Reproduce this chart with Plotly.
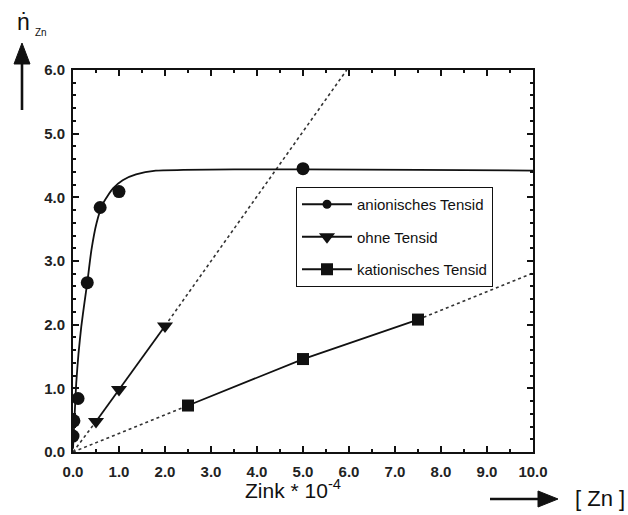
import plotly.graph_objects as go

# ---- data ----
anion_x = [0.0, 0.02, 0.11, 0.31, 0.59, 1.0, 5.0]
anion_y = [0.25, 0.49, 0.84, 2.66, 3.84, 4.09, 4.45]
anion_curve_x = [0.0, 0.03, 0.07, 0.12, 0.18, 0.25, 0.31, 0.40, 0.51, 0.65, 0.87, 1.08, 1.37, 1.8, 2.4, 3.5, 5.0, 7.5, 10.0]
anion_curve_y = [0.05, 0.50, 1.08, 1.55, 1.97, 2.35, 2.66, 3.17, 3.59, 3.90, 4.14, 4.27, 4.36, 4.42, 4.43, 4.44, 4.44, 4.43, 4.42]

ohne_x = [0.5, 1.0, 2.0]
ohne_y = [0.48, 0.98, 1.98]
ohne_dot_lo_x = [0.0, 0.5]
ohne_dot_lo_y = [0.0, 0.48]
ohne_dot_hi_x = [2.0, 5.95]
ohne_dot_hi_y = [1.98, 6.0]

kat_x = [2.5, 5.0, 7.5]
kat_y = [0.73, 1.46, 2.08]
kat_dot_lo_x = [0.0, 2.5]
kat_dot_lo_y = [0.0, 0.73]
kat_dot_hi_x = [7.5, 10.0]
kat_dot_hi_y = [2.08, 2.81]

names = ["anionisches Tensid", "ohne Tensid", "kationisches Tensid"]
x_ticks = [0, 1, 2, 3, 4, 5, 6, 7, 8, 9, 10]
y_ticks = [0, 1, 2, 3, 4, 5, 6]

W, H = 628, 515
L, R, T, B = 73, 95, 70, 63
PW, PH = W - L - R, H - T - B


def px(x):
    return (x - L) / PW


def py(y):
    return (H - B - y) / PH


INK = "#111111"
DOT = "#333333"

fig = go.Figure()

# dotted extensions
for xs, ys in [(ohne_dot_lo_x, ohne_dot_lo_y), (ohne_dot_hi_x, ohne_dot_hi_y),
               (kat_dot_lo_x, kat_dot_lo_y), (kat_dot_hi_x, kat_dot_hi_y)]:
    fig.add_trace(go.Scatter(x=xs, y=ys, mode="lines", showlegend=False,
                             line=dict(color=DOT, width=1.6, dash="dot"), hoverinfo="skip"))

# anionic fitted curve
fig.add_trace(go.Scatter(x=anion_curve_x, y=anion_curve_y, mode="lines", showlegend=False,
                         line=dict(color=INK, width=1.8, shape="spline", smoothing=0.6)))

fig.add_trace(go.Scatter(x=anion_x, y=anion_y, mode="markers", name=names[0],
                         legendgroup="a", showlegend=False,
                         marker=dict(symbol="circle", size=13, color=INK)))
# legend entry for anionic (line + dot), no data of its own
fig.add_trace(go.Scatter(x=[None], y=[None], mode="lines+markers", name=names[0],
                         legendgroup="a",
                         line=dict(color=INK, width=1.8),
                         marker=dict(symbol="circle", size=9, color=INK)))
fig.add_trace(go.Scatter(x=ohne_x, y=ohne_y, mode="lines+markers", name=names[1],
                         legendgroup="b",
                         line=dict(color=INK, width=1.8),
                         marker=dict(symbol="triangle-down", size=14, color=INK)))
fig.add_trace(go.Scatter(x=kat_x, y=kat_y, mode="lines+markers", name=names[2],
                         legendgroup="c",
                         line=dict(color=INK, width=1.8),
                         marker=dict(symbol="square", size=12, color=INK)))

axis_common = dict(
    showline=True, linecolor=INK, linewidth=1.8, mirror="ticks",
    ticks="inside", ticklen=6, tickwidth=1.5, tickcolor=INK,
    showgrid=False, zeroline=False, tickformat=".1f",
    tickfont=dict(family="Liberation Sans, Arial", size=15, color="#222", weight="bold"),
)

fig.update_xaxes(range=[0, 10], tickvals=x_ticks,
                 minor=dict(dtick=0.5, ticks="inside", ticklen=3, tickcolor=INK, showgrid=False),
                 ticklabelstandoff=5, **axis_common)
fig.update_yaxes(range=[0, 6], tickvals=y_ticks,
                 minor=dict(dtick=0.2, ticks="inside", ticklen=3, tickcolor=INK, showgrid=False),
                 ticklabelstandoff=3, **axis_common)

TXT = dict(family="Liberation Sans, Arial", color="#111")

annotations = [
    dict(x=px(23), y=py(22), xref="paper", yref="paper", text="ṅ", showarrow=False,
         font=dict(size=23, **TXT), xanchor="center", yanchor="middle"),
    dict(x=px(41), y=py(32), xref="paper", yref="paper", text="Zn", showarrow=False,
         font=dict(size=10, **TXT), xanchor="center", yanchor="middle"),
    dict(x=px(293), y=py(489), xref="paper", yref="paper",
         text="Zink * 10<sup>-4</sup>", showarrow=False,
         font=dict(size=21, **TXT), xanchor="center", yanchor="middle"),
    dict(x=px(600), y=py(498), xref="paper", yref="paper", text="[ Zn ]", showarrow=False,
         font=dict(size=22, **TXT), xanchor="center", yanchor="middle"),
]


def ppath(points):
    return "M " + " L ".join(f"{px(a):.5f},{py(b):.5f}" for a, b in points) + " Z"


shapes = [
    # up arrow
    dict(type="line", xref="paper", yref="paper", x0=px(22), x1=px(22), y0=py(110), y1=py(60),
         line=dict(color="#111", width=2.6)),
    dict(type="path", xref="paper", yref="paper", path=ppath([(14, 64), (30, 64), (22, 43)]),
         fillcolor="#111", line=dict(color="#111", width=1)),
    # right arrow
    dict(type="line", xref="paper", yref="paper", x0=px(490), x1=px(542), y0=py(499), y1=py(499),
         line=dict(color="#111", width=2.6)),
    dict(type="path", xref="paper", yref="paper", path=ppath([(538, 491), (538, 507), (558, 499)]),
         fillcolor="#111", line=dict(color="#111", width=1)),
]

fig.update_layout(
    width=W, height=H,
    margin=dict(l=L, r=R, t=T, b=B),
    paper_bgcolor="white", plot_bgcolor="white",
    annotations=annotations,
    shapes=shapes,
    showlegend=True,
    legend=dict(x=px(296), y=py(187), xanchor="left", yanchor="top",
                bordercolor="#111", borderwidth=1, bgcolor="white",
                font=dict(size=15, family="Liberation Sans, Arial", color="#111"),
                traceorder="grouped", tracegroupgap=10, itemwidth=50,
                entrywidth=165),
)

fig.write_html("out.html")
